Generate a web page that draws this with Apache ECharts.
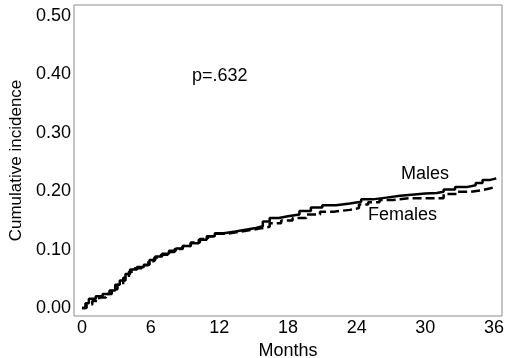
<!DOCTYPE html>
<html>
<head>
<meta charset="utf-8">
<script src="https://cdn.jsdelivr.net/npm/echarts@6/dist/echarts.min.js"></script>
<style>
  html, body { margin: 0; padding: 0; background: #fff; }
  #chart { width: 510px; height: 358px; }
</style>
</head>
<body>
<div id="chart"></div>
<script>
// tick labels
const xTicks = [0, 6, 12, 18, 24, 30, 36]
const yTicks = [0, 0.1, 0.2, 0.3, 0.4, 0.5]

// cumulative incidence, step after each month value
const malesMonths = [0, 0.3, 0.6, 1.2, 1.8, 2.4, 2.9, 3.3, 3.8, 4.2, 4.8, 5.4, 5.9, 6.4, 7.0, 7.6, 8.2, 8.8, 9.5, 10.2, 10.9, 11.6, 12.4, 13.4, 14.3, 15.2, 15.8, 16.4, 17.2, 18.0, 19.0, 20.0, 21.0, 22.2, 23.4, 24.4, 25.4, 26.6, 27.8, 28.8, 30.0, 31.0, 31.6, 32.6, 33.6, 34.4, 35.0, 35.6, 36.2]
const malesValues = [0, 0.008, 0.016, 0.020, 0.024, 0.030, 0.040, 0.047, 0.058, 0.066, 0.070, 0.074, 0.082, 0.088, 0.093, 0.098, 0.102, 0.106, 0.111, 0.117, 0.123, 0.128, 0.131, 0.134, 0.137, 0.140, 0.148, 0.154, 0.157, 0.160, 0.166, 0.172, 0.176, 0.179, 0.182, 0.186, 0.189, 0.192, 0.194, 0.196, 0.197, 0.199, 0.203, 0.207, 0.210, 0.214, 0.219, 0.222, 0.222]

const femalesMonths = [0, 0.4, 0.9, 1.5, 2.1, 2.6, 3.1, 3.6, 4.1, 4.6, 5.2, 5.8, 6.3, 6.9, 7.5, 8.1, 8.8, 9.5, 10.3, 11.0, 11.8, 12.6, 13.6, 14.6, 15.5, 16.4, 17.4, 18.4, 19.6, 20.8, 22.0, 23.4, 24.2, 25.0, 26.0, 27.2, 28.6, 30.0, 31.0, 31.6, 32.8, 34.0, 35.0, 35.7, 36.2]
const femalesValues = [0, 0.006, 0.012, 0.018, 0.024, 0.032, 0.040, 0.052, 0.062, 0.068, 0.073, 0.080, 0.086, 0.091, 0.096, 0.101, 0.106, 0.112, 0.118, 0.123, 0.127, 0.130, 0.133, 0.136, 0.139, 0.145, 0.150, 0.154, 0.160, 0.165, 0.168, 0.171, 0.177, 0.181, 0.185, 0.188, 0.188, 0.188, 0.188, 0.195, 0.199, 0.202, 0.205, 0.208, 0.209]

const font = 'Liberation Sans, Arial, sans-serif'
const zip = (xs, ys) => xs.map((x, i) => [x, ys[i]])

const chart = echarts.init(document.getElementById('chart'), null, { renderer: 'canvas' })
const option = {
  animation: false,
  backgroundColor: '#fff',
  grid: {
    left: 74,
    right: 8,
    top: 5,
    bottom: 42,
    outerBoundsMode: 'none',
    containLabel: false,
    show: true,
    borderColor: '#8c8c8c',
    borderWidth: 1
  },
  xAxis: {
    type: 'value',
    min: -0.7,
    max: 36.7,
    name: 'Months',
    nameLocation: 'middle',
    nameGap: 18,
    nameTextStyle: { color: '#000', fontSize: 18, fontFamily: font },
    axisLine: { show: false },
    axisTick: { show: false },
    splitLine: { show: false },
    axisLabel: {
      customValues: xTicks,
      margin: 3,
      color: '#000',
      fontSize: 18,
      fontFamily: font
    }
  },
  yAxis: {
    type: 'value',
    min: -0.0137,
    max: 0.5188,
    name: 'Cumulative incidence',
    nameLocation: 'middle',
    nameGap: 48,
    nameTextStyle: { color: '#000', fontSize: 17, fontFamily: font },
    axisLine: { show: false },
    axisTick: { show: false },
    splitLine: { show: false },
    axisLabel: {
      customValues: yTicks,
      margin: 3,
      color: '#000',
      fontSize: 18,
      fontFamily: font,
      formatter: v => v.toFixed(2)
    }
  },
  series: [
    {
      name: 'Males',
      type: 'line',
      step: 'end',
      symbol: 'none',
      data: zip(malesMonths, malesValues),
      lineStyle: { color: '#000', width: 2.5 }
    },
    {
      name: 'Females',
      type: 'line',
      step: 'end',
      symbol: 'none',
      data: zip(femalesMonths, femalesValues),
      lineStyle: { color: '#000', width: 2.5, type: [9, 4] }
    }
  ],
  graphic: [
    {
      type: 'text', left: 192, top: 67,
      style: { text: 'p=.632', fill: '#000', font: '18px ' + font }
    },
    {
      type: 'text', left: 401, top: 165,
      style: { text: 'Males', fill: '#000', font: '18px ' + font }
    },
    {
      type: 'text', left: 368, top: 206,
      style: { text: 'Females', fill: '#000', font: '18px ' + font }
    }
  ]
}
chart.setOption(option)
</script>
</body>
</html>
